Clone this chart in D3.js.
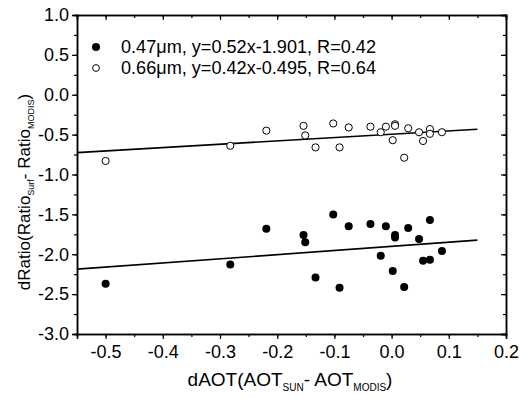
<!DOCTYPE html>
<html>
<head>
<meta charset="utf-8">
<script src="https://cdn.jsdelivr.net/npm/d3@7"></script>
<style>
  body { margin: 0; background: #fff; }
  svg text { font-family: "Liberation Sans", Arial, sans-serif; fill: #000; }
</style>
</head>
<body>
<div id="chart"></div>
<script>
// paired observations: same dAOT for both wavelengths
var dAOT = [-0.500, -0.282, -0.219, -0.154, -0.151, -0.133, -0.102, -0.091, -0.075, -0.037, -0.019,
            -0.010, 0.006, 0.006, 0.002, 0.022, 0.029, 0.048, 0.055, 0.067, 0.067, 0.088];
var ratio047 = [-2.37, -2.13, -1.68, -1.76, -1.85, -2.29, -1.50, -2.42, -1.65, -1.62, -2.02,
                -1.65, -1.76, -1.79, -2.21, -2.41, -1.67, -1.81, -2.08, -1.57, -2.07, -1.96];
var ratio066 = [-0.83, -0.64, -0.45, -0.39, -0.51, -0.66, -0.36, -0.66, -0.41, -0.40, -0.47,
                -0.40, -0.37, -0.39, -0.57, -0.79, -0.42, -0.47, -0.58, -0.43, -0.49, -0.47];

// linear fits given in the legend
var fitSlopes = [0.52, 0.42];
var fitIntercepts = [-1.901, -0.495];
var fitRange = [-0.55, 0.15];
var legendLabels = ["0.47\u03bcm, y=0.52x-1.901, R=0.42", "0.66\u03bcm, y=0.42x-0.495, R=0.64"];

var xTicks = [-0.5, -0.4, -0.3, -0.2, -0.1, 0.0, 0.1, 0.2];
var yTicks = [1.0, 0.5, 0.0, -0.5, -1.0, -1.5, -2.0, -2.5, -3.0];

var margin = {top: 15, right: 22, bottom: 65, left: 77},
    width = 528 - margin.left - margin.right,
    height = 399 - margin.top - margin.bottom;

var x = d3.scaleLinear().domain([-0.55, 0.2]).range([0, width]);
var y = d3.scaleLinear().domain([-3.0, 1.0]).range([height, 0]);

var svg = d3.select("#chart").append("svg")
    .attr("width", 528)
    .attr("height", 399)
  .append("g")
    .attr("transform", "translate(" + margin.left + "," + margin.top + ")");

// plain hyphen for negatives, like the original
var fmt = function(d) { return d3.format(".1f")(d).replace("\u2212", "-"); };
var xMinor = d3.range(-0.55, 0.2001, 0.05);
var yMinor = d3.range(-3.0, 1.0001, 0.25);

// bottom axis: major + minor, outward
svg.append("g")
    .attr("transform", "translate(0," + height + ")")
    .call(d3.axisBottom(x).tickValues(xMinor).tickSize(3).tickFormat(""));
svg.append("g")
    .attr("transform", "translate(0," + height + ")")
    .call(d3.axisBottom(x).tickValues(xTicks).tickSize(5).tickPadding(6).tickFormat(fmt));

// left axis
svg.append("g")
    .call(d3.axisLeft(y).tickValues(yMinor).tickSize(3).tickFormat(""));
svg.append("g")
    .call(d3.axisLeft(y).tickValues(yTicks).tickSize(5).tickPadding(3).tickFormat(fmt));

// top and right mirrored, inward
svg.append("g")
    .call(d3.axisTop(x).tickValues(xMinor).tickSize(-3).tickFormat(""));
svg.append("g")
    .call(d3.axisTop(x).tickValues(xTicks).tickSize(-5).tickFormat(""));
svg.append("g")
    .attr("transform", "translate(" + width + ",0)")
    .call(d3.axisRight(y).tickValues(yMinor).tickSize(-3).tickFormat(""));
svg.append("g")
    .attr("transform", "translate(" + width + ",0)")
    .call(d3.axisRight(y).tickValues(yTicks).tickSize(-5).tickFormat(""));

svg.selectAll(".domain").attr("stroke", "#000").attr("stroke-width", 1.5);
svg.selectAll(".tick line").attr("stroke", "#000").attr("stroke-width", 1.2);
svg.selectAll(".tick text").attr("font-size", 18)
    .style("font-family", "'Liberation Sans', Arial, sans-serif");

// fit lines
fitSlopes.forEach(function(m, i) {
  svg.append("line")
      .attr("x1", x(fitRange[0]))
      .attr("y1", y(m * fitRange[0] + fitIntercepts[i]))
      .attr("x2", x(fitRange[1]))
      .attr("y2", y(m * fitRange[1] + fitIntercepts[i]))
      .attr("stroke", "#000")
      .attr("stroke-width", 1.6);
});

// points
svg.selectAll(".p047").data(dAOT).enter().append("circle")
    .attr("cx", function(d) { return x(d); })
    .attr("cy", function(d, i) { return y(ratio047[i]); })
    .attr("r", 4)
    .attr("fill", "#000");

svg.selectAll(".p066").data(dAOT).enter().append("circle")
    .attr("cx", function(d) { return x(d); })
    .attr("cy", function(d, i) { return y(ratio066[i]); })
    .attr("r", 3.6)
    .attr("fill", "#fff")
    .attr("stroke", "#000")
    .attr("stroke-width", 1);

// legend
var legend = svg.append("g").attr("transform", "translate(19,32)");
legendLabels.forEach(function(t, i) {
  var g = legend.append("g").attr("transform", "translate(0," + (i * 21) + ")");
  g.append("circle")
      .attr("r", i === 0 ? 4 : 3.4)
      .attr("fill", i === 0 ? "#000" : "#fff")
      .attr("stroke", "#000")
      .attr("stroke-width", i === 0 ? 0 : 1);
  g.append("text")
      .attr("x", 25)
      .attr("dy", "0.36em")
      .attr("font-size", 17.5)
      .attr("textLength", 255)
      .attr("lengthAdjust", "spacingAndGlyphs")
      .text(t);
});

// axis titles
var xt = svg.append("text")
    .attr("x", 290 - margin.left)
    .attr("y", height + 52)
    .attr("text-anchor", "middle")
    .attr("font-size", 19);
xt.append("tspan").text("dAOT(AOT");
xt.append("tspan").attr("font-size", 10).attr("dy", 5).text("SUN");
xt.append("tspan").attr("dy", -5).text("- AOT");
xt.append("tspan").attr("font-size", 10).attr("dy", 5).text("MODIS");
xt.append("tspan").attr("dy", -5).text(")");

var yt = svg.append("text")
    .attr("transform", "translate(" + (30 - margin.left) + "," + (192 - margin.top) + ") rotate(-90)")
    .attr("text-anchor", "middle")
    .attr("font-size", 17);
yt.append("tspan").text("dRatio(Ratio");
yt.append("tspan").attr("font-size", 9).attr("dy", 4).text("Surf");
yt.append("tspan").attr("dy", -4).text("- Ratio");
yt.append("tspan").attr("font-size", 9).attr("dy", 4).text("MODIS");
yt.append("tspan").attr("dy", -4).text(")");
</script>
</body>
</html>
